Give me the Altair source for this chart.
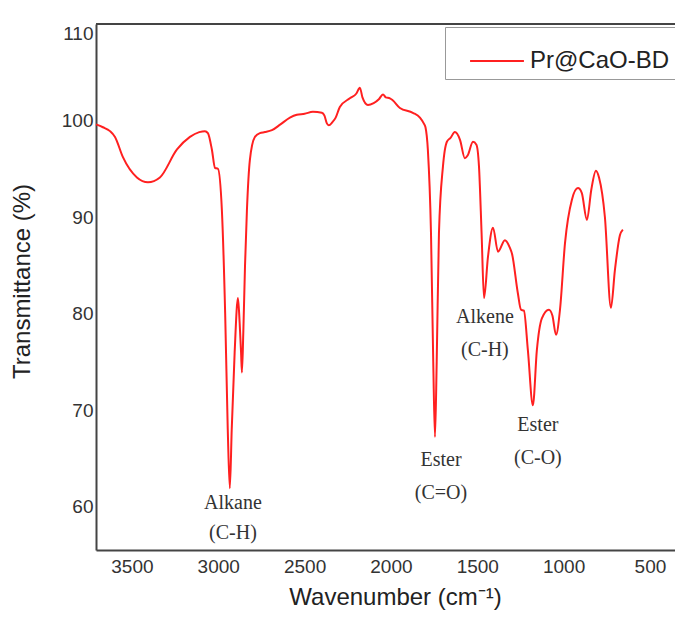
import altair as alt
import pandas as pd

# Wavenumber (cm-1) and transmittance (%)
wavenumber = [3708, 3668, 3627, 3598, 3552, 3471, 3407, 3338, 3239, 3164, 3110, 3077,
              3060, 3037, 3019, 3002, 2979, 2960, 2945, 2933, 2922, 2905, 2886, 2876,
              2868, 2863, 2855, 2845, 2834, 2817, 2788, 2759, 2730, 2689, 2640, 2585,
              2545, 2500, 2452, 2400, 2385, 2371, 2360, 2340, 2320, 2296, 2238, 2200,
              2180, 2165, 2133, 2100, 2070, 2046, 2030, 2006, 1990, 1948, 1873, 1832,
              1810, 1800, 1786, 1768, 1755, 1745, 1735, 1722, 1699, 1676, 1655, 1630,
              1600, 1572, 1555, 1525, 1505, 1490, 1475, 1461, 1438, 1409, 1380, 1340,
              1311, 1299, 1265, 1247, 1230, 1207, 1178, 1155, 1126, 1085, 1065, 1044,
              1021, 992, 952, 917, 895, 865, 840, 813, 795, 761, 726, 703, 674, 657]
transmittance = [99.6, 99.3, 98.9, 98.3, 96.2, 94.1, 93.6, 94.1, 97.0, 98.3, 98.8, 98.9,
                 98.7, 97.0, 95.1, 95.0, 90.7, 80.0, 68.0, 61.9, 68.0, 76.0, 81.6, 79.0,
                 76.0, 73.9, 78.0, 85.0, 90.7, 95.9, 98.3, 98.7, 98.8, 99.0, 99.6, 100.3,
                 100.6, 100.7, 100.9, 100.8, 100.5, 99.7, 99.5, 99.8, 100.3, 101.4, 102.3, 102.8,
                 103.4, 102.4, 101.6, 101.8, 102.2, 102.7, 102.4, 102.3, 102.1, 101.3, 100.8, 100.3,
                 99.7, 99.3, 96.9, 88.3, 75.0, 67.2, 75.0, 88.3, 95.2, 97.8, 98.2, 98.8,
                 98.0, 96.1, 96.4, 97.8, 97.5, 95.2, 88.3, 81.6, 85.9, 88.9, 86.4, 87.6,
                 86.8, 86.2, 82.1, 80.4, 80.3, 76.2, 70.5, 76.2, 79.5, 80.4, 79.8, 77.8,
                 80.4, 87.3, 91.8, 93.0, 92.5, 89.7, 92.8, 94.8, 94.1, 90.0, 80.6, 84.5, 88.1, 88.7]
series_name = "Pr@CaO-BD"

# Peak annotations
note_text = ["Alkane", "(C-H)", "Ester", "(C=O)", "Alkene", "(C-H)", "Ester", "(C-O)"]
note_wn = [2915, 2915, 1710, 1710, 1456, 1456, 1149, 1149]
note_t = [60.4, 57.3, 64.8, 61.4, 79.6, 76.2, 68.4, 65.0]

x_ticks = [3500, 3000, 2500, 2000, 1500, 1000, 500]
y_ticks = [60, 70, 80, 90, 100, 110]

W, H = 579, 526

df = pd.DataFrame({"wn": wavenumber, "t": transmittance, "series": series_name})
notes = pd.DataFrame({"wn": note_wn, "t": note_t, "label": note_text})

x_scale = alt.Scale(domain=[355, 3708], reverse=True, nice=False, zero=False)
y_scale = alt.Scale(domain=[55.5, 110], nice=False, zero=False)

line = alt.Chart(df).mark_line(strokeWidth=2, interpolate="monotone").encode(
    x=alt.X("wn:Q", scale=x_scale,
            axis=alt.Axis(title="Wavenumber (cm⁻¹)", values=x_ticks, format="d",
                          grid=False, ticks=False, tickSize=0, labelPadding=7,
                          labelFontSize=19, titleFontSize=24,
                          titleX=299, titleY=47, titleBaseline="middle",
                          titleFontWeight="normal")),
    y=alt.Y("t:Q", scale=y_scale,
            axis=alt.Axis(title="Transmittance (%)", values=y_ticks, format="d",
                          grid=False, ticks=False, tickSize=0, labelPadding=3,
                          labelFontSize=19, labelFlush=True, titleFontSize=24,
                          titleX=-74, titleY=257, titleAngle=-90,
                          titleAlign="center", titleBaseline="middle",
                          titleFontWeight="normal")),
    color=alt.Color("series:N", scale=alt.Scale(range=["#ff2020"]),
                    legend=alt.Legend(title=None, orient="none", legendX=349, legendY=3,
                                      symbolType="stroke", symbolSize=2900,
                                      symbolStrokeWidth=2, symbolOffset=18,
                                      labelFontSize=24, labelOffset=5,
                                      labelColor="#222", padding=6,
                                      strokeColor="#999", fillColor="white")),
)

text = alt.Chart(notes).mark_text(font="Liberation Serif", fontSize=20, color="#333",
                                  align="center", baseline="middle").encode(
    x=alt.X("wn:Q", scale=x_scale),
    y=alt.Y("t:Q", scale=y_scale),
    text="label:N",
)

top_border = alt.Chart(pd.DataFrame({"a": [0]})).mark_rule(color="#444", strokeWidth=2).encode(
    x=alt.value(0), x2=alt.value(W), y=alt.value(0)
)

chart = alt.layer(line, text, top_border).properties(
    width=W, height=H,
    autosize=alt.AutoSizeParams(type="none"),
    padding={"left": 88, "top": 16, "right": 0, "bottom": 60},
).configure_view(stroke=None).configure_axis(
    domainColor="#444", domainWidth=2, labelColor="#333", titleColor="#222",
    labelFont="Liberation Sans", titleFont="Liberation Sans",
).configure_legend(labelFont="Liberation Sans")

chart.save("out.html", embed_options={"renderer": "svg", "actions": False})
